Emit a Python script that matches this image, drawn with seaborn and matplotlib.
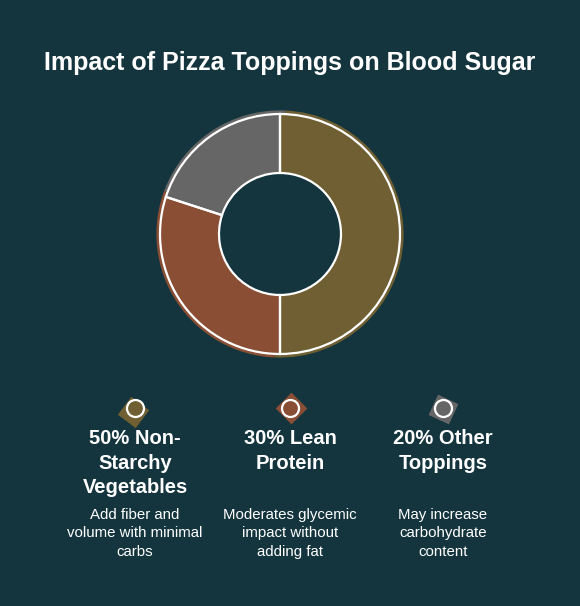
import matplotlib
matplotlib.use("Agg")
import matplotlib.pyplot as plt
import seaborn as sns

# data
categories = ["Non-Starchy Vegetables", "Lean Protein", "Other Toppings"]
shares = [50, 30, 20]
labels = ["50% Non-\nStarchy\nVegetables", "30% Lean\nProtein", "20% Other\nToppings"]
notes = [
    "Add fiber and\nvolume with minimal\ncarbs",
    "Moderates glycemic\nimpact without\nadding fat",
    "May increase\ncarbohydrate\ncontent",
]
colors = ["#6f5f32", "#8a4e35", "#666666"]
BG = "#14353e"

sns.set_theme(style="white")
plt.rcParams["font.family"] = ["Liberation Sans", "DejaVu Sans"]

W, H = 580, 606
fig = plt.figure(figsize=(W / 100, H / 100), dpi=100, facecolor=BG)

# overlay in pixel coordinates (y down)
base = fig.add_axes([0, 0, 1, 1])
base.set_xlim(0, W)
base.set_ylim(H, 0)
base.axis("off")
base.set_facecolor(BG)

base.text(290, 63, "Impact of Pizza Toppings on Blood Sugar", ha="center", va="center",
          color="white", fontsize=18, fontweight="bold")

# donut
cx, cy, R = 280, 234, 120
pad = 12
lim = (R + pad) / R
ax = fig.add_axes([(cx - R - pad) / W, (H - cy - R - pad) / H, 2 * (R + pad) / W, 2 * (R + pad) / H])
ring = 59 / 120

# sketchy fill: a few slightly shifted copies of the wedges
for off, rad in [(-2.5, 1.03), (2.0, 0.99), (0.0, 1.0)]:
    ax.pie(shares, colors=colors, startangle=90 + off, counterclock=False, radius=rad,
           wedgeprops=dict(width=ring * rad, linewidth=0))
# white outline
ax.pie(shares, colors=["none"] * len(shares), startangle=90, counterclock=False, radius=1.0,
       wedgeprops=dict(width=ring, edgecolor="white", linewidth=1.6))
ax.set_xlim(-lim, lim)
ax.set_ylim(-lim, lim)
ax.set_aspect("equal")
ax.axis("off")

# legend items
col_x = [135, 290, 443]
dia_shift = [(-2, 4, 8), (1, 0, 0), (0, 1, 20)]
for x, lab, note, c, (dx, dy, rot) in zip(col_x, labels, notes, colors, dia_shift):
    base.scatter([x + dx], [408 + dy], marker=(4, 0, rot), s=520, color=c, linewidths=0, zorder=3)
    base.scatter([x], [408], marker="o", s=150, color=c, edgecolors="white", linewidths=1.6, zorder=4)
    base.text(x, 429, lab, ha="center", va="top", color="white", fontsize=14.5,
              fontweight="bold", linespacing=1.38)
    base.text(x, 508, note, ha="center", va="top", color="white", fontsize=10.8,
              linespacing=1.4)

fig.savefig("out.png", dpi=100, facecolor=BG)
